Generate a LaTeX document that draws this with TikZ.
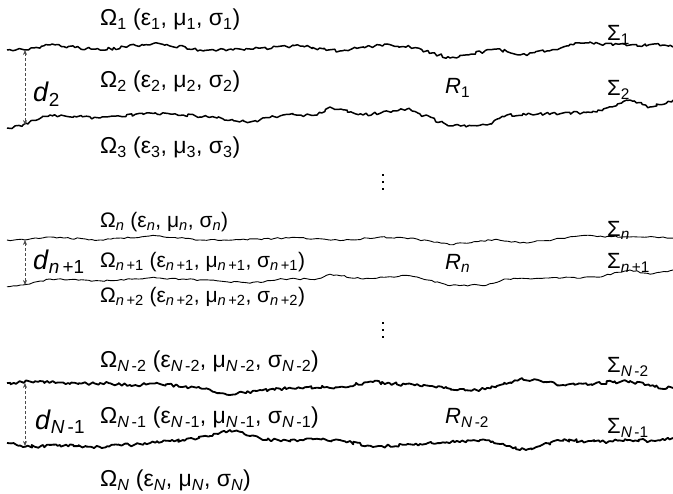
\documentclass[tikz,border=0pt]{standalone}
\usepackage{fontspec}
\setmainfont{Liberation Sans}
\usetikzlibrary{arrows.meta,decorations.pathmorphing}

\newcommand{\lo}[1]{\textsubscript{#1}}
\newcommand{\ii}[1]{\textit{#1}}

% broad shape of the upper and lower interface of the first layer
\newcommand{\upperpath}{(25,50),(50,45),(100,50),(157,43),(200,50),(233,50),(300,46),(340,51),(380,45),(410,47),(450,58),(497,49),(520,55),(547,51),(580,43),(630,45),(663,45),(673,47)}
\newcommand{\lowerpath}{(23,125),(50,115),(100,118),(150,113),(183,115),(217,118),(250,122),(283,115),(317,115),(330,107),(363,115),(407,109),(450,126),(487,125),(507,115),(563,113),(597,112),(630,100),(650,107),(673,100)}

\tikzset{
  rough/.style={line width=1.5pt, line join=round,
    decorate, decoration={random steps, segment length=2.8pt, amplitude=1.5pt}},
  fine/.style={line width=0.9pt, line join=round,
    decorate, decoration={random steps, segment length=3.5pt, amplitude=0.8pt}},
  coarse/.style={line width=1.8pt, line join=round,
    decorate, decoration={random steps, segment length=2.5pt, amplitude=1.6pt}},
  gap/.style={densely dashed, line width=0.7pt, black!70,
    {Stealth[length=5pt,width=4pt]}-{Stealth[length=5pt,width=4pt]}},
  big/.style={font=\fontsize{23}{27}\selectfont, anchor=west, inner sep=0pt},
  small/.style={font=\fontsize{21}{25}\selectfont, anchor=west, inner sep=0pt},
  thick d/.style={font=\fontsize{27}{31}\selectfont, anchor=west, inner sep=0pt},
  reg/.style={font=\fontsize{22}{26}\selectfont, anchor=west, inner sep=0pt},
  surf/.style={font=\fontsize{22}{26}\selectfont, anchor=west, inner sep=0pt},
}

\begin{document}
\begin{tikzpicture}[x=1pt, y=-1pt]
  \useasboundingbox (0,0) rectangle (673,494);

  % first layer
  \pgfmathsetseed{7}
  \draw[rough] (7,50) \foreach \p in \upperpath {-- \p};
  \draw[rough] (7,128) \foreach \p in \lowerpath {-- \p};
  \coordinate (t1) at (25,50);
  \coordinate (t2) at (25,125);
  \draw[gap] (t1) -- (t2);

  \node[big] (o1) at (100,20) {Ω\lo{1} (ε\lo{1}, μ\lo{1}, σ\lo{1})};
  \node[big] (o2) at (100,82) {Ω\lo{2} (ε\lo{2}, μ\lo{2}, σ\lo{2})};
  \node[big] (o3) at (100,148) {Ω\lo{3} (ε\lo{3}, μ\lo{3}, σ\lo{3})};
  \node[thick d] (d2) at (33,94) {\ii{d}\lo{2}};
  \node[reg] (r1) at (445,88) {\ii{R}\lo{1}};
  \node[surf] (s1) at (607,35) {Σ\lo{1}};
  \node[surf] (s2) at (607,90) {Σ\lo{2}};

  \foreach \y in {174,181,188}
    \fill (382,\y) rectangle +(2,2);

  % n-th layer
  \begin{scope}[y=-0.6pt, yshift=-210pt]
    \pgfmathsetseed{21}
    \draw[fine] (7,50) \foreach \p in \upperpath {-- \p};
    \draw[fine] (7,128) \foreach \p in \lowerpath {-- \p};
    \coordinate (m1) at (25,50);
    \coordinate (m2) at (25,125);
  \end{scope}
  \draw[gap] (m1) -- (m2);

  \node[small] (on) at (100,222) {Ω\lo{\ii{n}} (ε\lo{\ii{n}}, μ\lo{\ii{n}}, σ\lo{\ii{n}})};
  \node[small] (on1) at (100,262) {Ω\lo{\ii{n}\,+1} (ε\lo{\ii{n}\,+1}, μ\lo{\ii{n}\,+1}, σ\lo{\ii{n}\,+1})};
  \node[small] (on2) at (100,297) {Ω\lo{\ii{n}\,+2} (ε\lo{\ii{n}\,+2}, μ\lo{\ii{n}\,+2}, σ\lo{\ii{n}\,+2})};
  \node[thick d] (dn) at (33,262) {\ii{d}\lo{\ii{n}\,+1}};
  \node[reg] (rn) at (445,263) {\ii{R}\lo{\ii{n}}};
  \node[surf] (sn) at (607,230) {Σ\lo{\ii{n}}};
  \node[surf] (sn1) at (607,263) {Σ\lo{\ii{n}\,+1}};

  \foreach \y in {322,329,336}
    \fill (382,\y) rectangle +(2,2);

  % last layer
  \pgfmathsetseed{5}
  \draw[coarse] (7,383) -- (40,381) -- (70,384) -- (100,383) -- (130,385)
    -- (160,384) -- (200,388) -- (230,395) -- (260,390) -- (300,388)
    -- (340,387) -- (373,382) -- (420,386) -- (460,389) -- (480,390)
    -- (500,385) -- (520,379) -- (545,382) -- (563,385) -- (600,383)
    -- (630,381) -- (655,387) -- (673,388);
  \draw[coarse] (7,443) -- (23,447) -- (60,445) -- (100,447) -- (140,444)
    -- (183,440) -- (210,436) -- (230,430) -- (250,436) -- (267,440)
    -- (300,440) -- (340,440) -- (373,447) -- (420,444) -- (480,440)
    -- (500,444) -- (520,450) -- (540,446) -- (563,440) -- (600,442)
    -- (630,440) -- (655,441) -- (673,438);
  \coordinate (b1) at (25,383);
  \coordinate (b2) at (25,446);
  \draw[gap] (b1) -- (b2);

  \node[big] (oN2) at (100,362) {Ω\lo{\ii{N}\,-2} (ε\lo{\ii{N}\,-2}, μ\lo{\ii{N}\,-2}, σ\lo{\ii{N}\,-2})};
  \node[big] (oN1) at (100,418) {Ω\lo{\ii{N}\,-1} (ε\lo{\ii{N}\,-1}, μ\lo{\ii{N}\,-1}, σ\lo{\ii{N}\,-1})};
  \node[big] (oN) at (100,481) {Ω\lo{\ii{N}} (ε\lo{\ii{N}}, μ\lo{\ii{N}}, σ\lo{\ii{N}})};
  \node[thick d] (dN) at (35,422) {\ii{d}\lo{\ii{N}\,-1}};
  \node[reg] (rN) at (445,418) {\ii{R}\lo{\ii{N}\,-2}};
  \node[surf] (sN2) at (607,367) {Σ\lo{\ii{N}\,-2}};
  \node[surf] (sN1) at (607,428) {Σ\lo{\ii{N}\,-1}};
\end{tikzpicture}
\end{document}
